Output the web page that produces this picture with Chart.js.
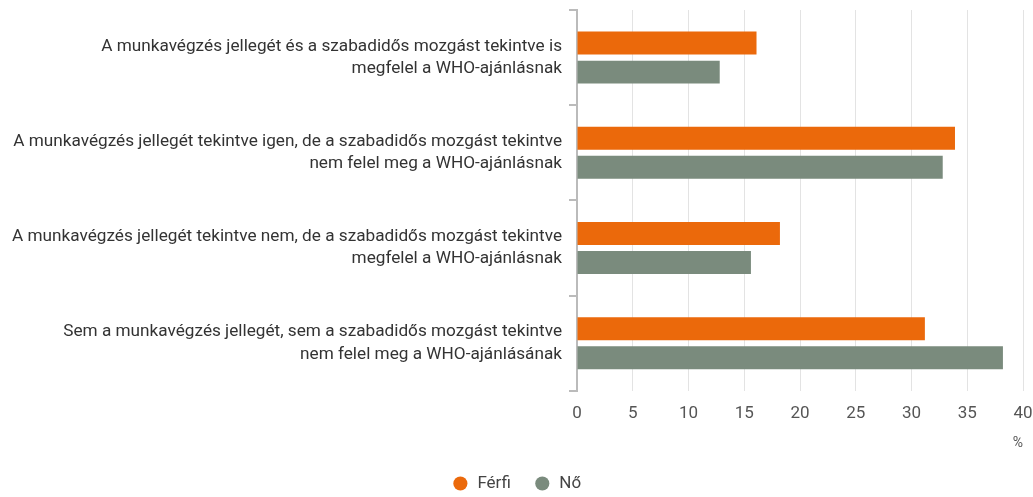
<!DOCTYPE html>
<html>
<head>
<meta charset="utf-8">
<script src="https://cdn.jsdelivr.net/npm/chart.js@4"></script>
<style>
  html, body { margin: 0; padding: 0; background: #fff; }
  #wrap { width: 1033px; height: 497px; }
</style>
</head>
<body>
<div id="wrap"><canvas id="chart"></canvas></div>
<script>
const categories = [
    ['A munkavégzés jellegét és a szabadidős mozgást tekintve is', 'megfelel a WHO-ajánlásnak'],
    ['A munkavégzés jellegét tekintve igen, de a szabadidős mozgást tekintve', 'nem felel meg a WHO-ajánlásnak'],
    ['A munkavégzés jellegét tekintve nem, de a szabadidős mozgást tekintve', 'megfelel a WHO-ajánlásnak'],
    ['Sem a munkavégzés jellegét, sem a szabadidős mozgást tekintve', 'nem felel meg a WHO-ajánlásának']
];
const ferfiValues = [16.1, 33.9, 18.2, 31.2];
const noValues = [12.8, 32.8, 15.6, 38.2];
const xTicks = [0, 5, 10, 15, 20, 25, 30, 35, 40];

Chart.defaults.font.family = 'Roboto, "Noto Sans", sans-serif';
Chart.defaults.font.size = 17;
Chart.defaults.color = '#444';

const ctx = document.getElementById('chart').getContext('2d');
new Chart(ctx, {
    type: 'bar',
    data: {
        labels: categories,
        datasets: [
            {
                label: 'Férfi',
                data: ferfiValues,
                backgroundColor: '#EB690B',
                barPercentage: 0.79,
                categoryPercentage: 0.61
            },
            {
                label: 'Nő',
                data: noValues,
                backgroundColor: '#7A8B7D',
                barPercentage: 0.79,
                categoryPercentage: 0.61
            }
        ]
    },
    options: {
        indexAxis: 'y',
        responsive: true,
        maintainAspectRatio: false,
        animation: false,
        layout: { padding: { top: 10, right: 0, left: 0, bottom: -5 } },
        scales: {
            x: {
                min: 0,
                max: 40,
                afterBuildTicks: axis => { axis.ticks = xTicks.map(v => ({ value: v })); },
                grid: { color: '#e3e3e3', lineWidth: 1, drawTicks: false },
                border: { display: false },
                ticks: { padding: 13, color: '#555', font: { size: 17 } },
                title: {
                    display: true,
                    text: '%',
                    align: 'end',
                    color: '#555',
                    font: { size: 14 },
                    padding: { top: -2, bottom: 0 }
                },
                afterFit: axis => { axis.paddingLeft = 0; axis.paddingRight = 10; }
            },
            y: {
                grid: {
                    drawOnChartArea: false,
                    drawTicks: true,
                    tickLength: 8,
                    offset: true,
                    color: '#bbb',
                    lineWidth: 2
                },
                border: { display: true, color: '#bbb', width: 2 },
                ticks: {
                    padding: 7,
                    color: '#333',
                    font: { size: 17.2, lineHeight: 1.28 }
                },
                afterFit: axis => {
                    axis.width = 577;
                    axis.paddingTop = 0;
                    axis.paddingBottom = 0;
                }
            }
        },
        plugins: {
            legend: {
                position: 'bottom',
                labels: {
                    usePointStyle: true,
                    pointStyle: 'circle',
                    boxWidth: 22,
                    boxHeight: 10,
                    padding: 23,
                    color: '#444',
                    font: { size: 17 }
                }
            },
            tooltip: { enabled: false }
        }
    }
});
</script>
</body>
</html>
